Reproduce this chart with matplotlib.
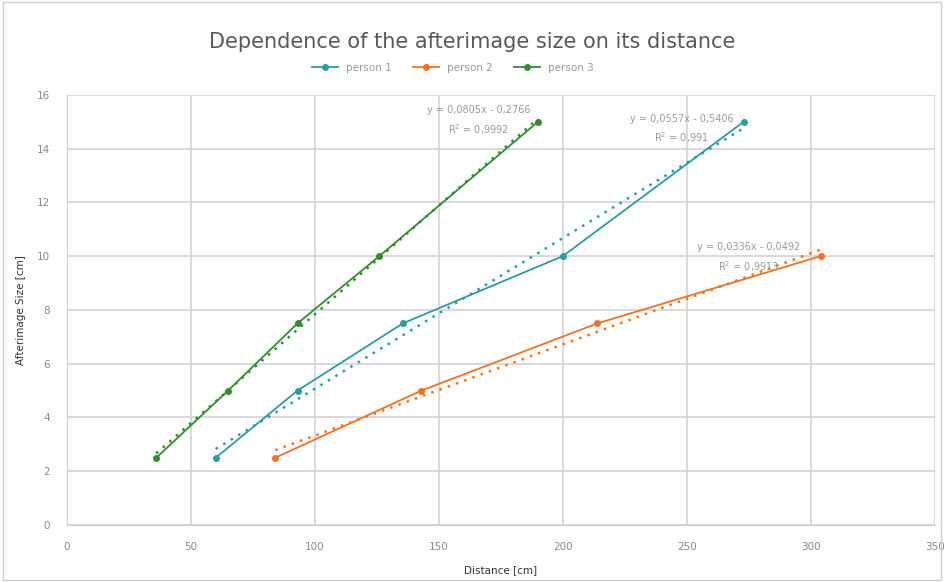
import numpy as np
import matplotlib.pyplot as plt
from matplotlib.patches import Rectangle

# data
p1_dist = [60, 93, 135.5, 200, 273]
p1_size = [2.5, 5, 7.5, 10, 15]
p2_dist = [84, 143, 214, 304]
p2_size = [2.5, 5, 7.5, 10]
p3_dist = [36, 65, 93, 126, 190]
p3_size = [2.5, 5, 7.5, 10, 15]

eq_labels = ['y = 0,0557x - 0,5406', 'y = 0,0336x - 0,0492', 'y = 0,0805x - 0,2766']
r2_labels = ['R$^2$ = 0,991', 'R$^2$ = 0,9913', 'R$^2$ = 0,9992']
names = ['person 1', 'person 2', 'person 3']
colors = ['#2a9ca4', '#f5711f', '#2f8f2f']

fig = plt.figure(figsize=(9.44, 5.82), dpi=100)
ax = fig.add_axes([0.071, 0.098, 0.919, 0.739])
fig.patches.append(Rectangle((0.003, 0.003), 0.994, 0.994, transform=fig.transFigure,
                             fill=False, edgecolor='#d0d0d0', lw=1))

series = [(p1_dist, p1_size), (p2_dist, p2_size), (p3_dist, p3_size)]
eq_pos = [(248, 15.1, 14.4), (275, 10.33, 9.6), (166, 15.43, 14.7)]

for (x, y), name, c, eq, r2, pos in zip(series, names, colors, eq_labels, r2_labels, eq_pos):
    x = np.array(x, dtype=float)
    y = np.array(y, dtype=float)
    ax.plot(x, y, color=c, lw=1.3, marker='o', ms=4, mfc=c, mec=c, label=name, zorder=3)
    k, b = np.polyfit(x, y, 1)
    xs = np.array([x.min(), x.max()])
    ax.plot(xs, k * xs + b, color=c, lw=1.8, ls=(0, (1, 2.5)), zorder=2)
    ax.text(pos[0], pos[1], eq, color='#9a9a9a', fontsize=7, ha='center', va='center')
    ax.text(pos[0], pos[2], r2, color='#9a9a9a', fontsize=7, ha='center', va='center')

ax.set_xlim(0, 350)
ax.set_ylim(0, 16)
ax.set_xticks(range(0, 351, 50))
ax.set_yticks(range(0, 17, 2))
ax.grid(True, color='#d3d3d3', lw=1.2)
ax.set_axisbelow(True)
for s in ['top', 'right']:
    ax.spines[s].set_visible(False)
for s in ['left', 'bottom']:
    ax.spines[s].set_color('#d0d0d0')
ax.tick_params(length=0, colors='#8a8a8a', labelsize=7.5, pad=12)

ax.set_xlabel('Distance [cm]', fontsize=7.5, color='#333333', labelpad=10)
ax.set_ylabel('Afterimage Size [cm]', fontsize=7.5, color='#333333', labelpad=8)

fig.suptitle('Dependence of the afterimage size on its distance', y=0.945,
             fontsize=15, color='#595959')
leg = fig.legend(loc='center', bbox_to_anchor=(0.48, 0.883), ncol=3, frameon=False,
                 fontsize=7.5, handlelength=2.5, columnspacing=2.0)
for t in leg.get_texts():
    t.set_color('#9a9a9a')

fig.savefig('out.png', dpi=100)
